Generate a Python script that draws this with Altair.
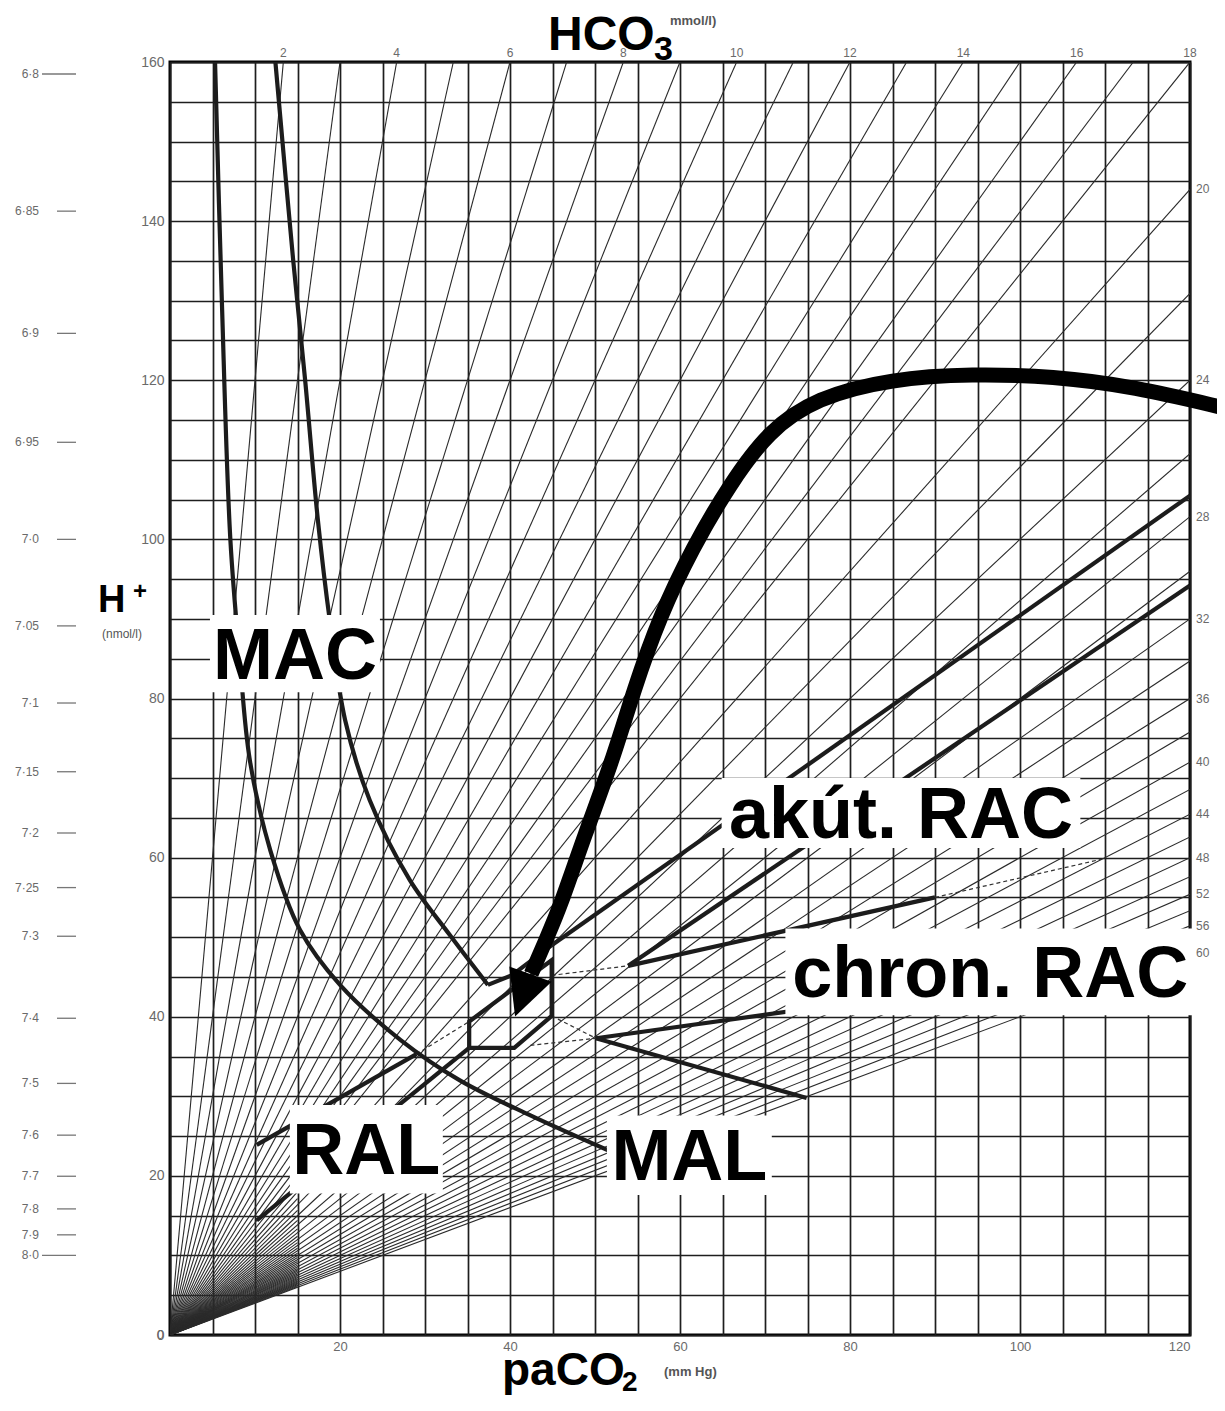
import altair as alt
import pandas as pd

# ---------------- layout ----------------
PAD_L, PAD_T, PAD_R, PAD_B = 162, 54, 27, 62
W, H = 1020, 1273

# ---------------- axis / scale data ----------------
pco2_domain = [0, 120]
h_domain = [0, 160]
grid_step = 5
pco2_label_every = 20
h_label_every = 20

ph_values = [6.8, 6.85, 6.9, 6.95, 7.0, 7.05, 7.1, 7.15, 7.2, 7.25, 7.3, 7.4, 7.5, 7.6, 7.7, 7.8, 7.9, 8.0]
ph_text = ["6·8", "6·85", "6·9", "6·95", "7·0", "7·05", "7·1", "7·15", "7·2", "7·25", "7·3",
           "7·4", "7·5", "7·6", "7·7", "7·8", "7·9", "8·0"]
ph_long_dash = ["6·8", "8·0"]

hco3_top_labels = [2, 4, 6, 8, 10, 12, 14, 16, 18]
hco3_right_labels = [20, 24, 28, 32, 36, 40, 44, 48, 52, 56, 60]
hco3_lines = list(range(2, 19)) + list(range(20, 61, 2))
hco3_short_lines = list(range(19, 60, 2))
short_line_end_pco2 = 15

# ---------------- bands (thick lines) ----------------
bands = {
    "MAC_left": ([5.3, 6.1, 7.1, 8.2, 9.4, 11.8, 15.3, 20.0, 27.1, 34.1, 42.4, 52.0],
                 [160, 130, 100, 85, 72.2, 60.9, 50.9, 44.0, 37.1, 32.0, 27.6, 23.0]),
    "MAC_right": ([12.4, 14.5, 15.9, 17.4, 18.8, 20.6, 23.5, 28.2, 32.9, 37.4],
                  [160, 135, 120, 102.4, 89.8, 77.3, 67.2, 57.2, 50.3, 44.0]),
    "MAC_link": ([37.4, 40.2, 44.4], [44.0, 45.2, 48.6]),
    "MAL_upper": ([50.1, 74.9], [37.3, 29.8]),
    "RAL_upper": ([10.2, 29.0], [23.9, 35.3]),
    "RAL_lower": ([10.2, 35.2], [14.4, 36.1]),
    "acute_upper": ([44.4, 120], [48.6, 105.5]),
    "acute_lower": ([53.9, 120], [46.4, 94.2]),
    "chron_upper": ([53.9, 90.0], [46.4, 55.0]),
    "chron_lower": ([50.1, 90.0], [37.3, 43.2]),
    "normal": ([35.2, 35.2, 44.9, 44.9, 40.5, 35.2], [36.1, 39.4, 47.1, 40.1, 36.1, 36.1]),
}
curved_bands = ["MAC_left", "MAC_right"]

dashed = {
    "d1": ([44.9, 53.9], [45.2, 46.4]),
    "d2": ([44.9, 50.1], [40.1, 37.3]),
    "d3": ([42.4, 50.1], [36.4, 37.3]),
    "d4": ([29.0, 35.2], [35.3, 39.4]),
    "d5": ([90.0, 109.6], [55.0, 59.8]),
}

# ---------------- arrow ----------------
arrow_x = [124.1, 113.4, 103.9, 94.4, 84.9, 76.0, 70.4, 65.9, 61.5, 57.6, 54.6, 52.0, 48.8, 45.9, 44.2, 42.5]
arrow_y = [116.5, 119.2, 120.5, 120.8, 120.2, 117.8, 113.6, 107.0, 99.0, 90.3, 81.2, 72.0, 62.9, 53.8, 49.6, 45.4]
arrow_head = (41.5, 42.7)
arrow_head_angle = 20

# ---------------- label boxes ----------------
lab_text = ["MAC", "akút. RAC", "chron. RAC", "RAL", "MAL"]
lab_x1 = [4.7, 64.9, 72.4, 14.1, 51.4]
lab_x2 = [24.7, 107.1, 120.6, 32.1, 70.8]
lab_y1 = [80.8, 61.2, 40.2, 17.8, 17.6]
lab_y2 = [90.5, 70.0, 51.1, 28.9, 27.6]

# ---------------- build tables ----------------
iso_rows = []
for h in hco3_lines:
    if h <= 18:
        xe, ye = 160 * h / 24, 160
    else:
        xe, ye = 120, 2880 / h
    iso_rows += [{"id": f"h{h}", "o": 0, "x": 0, "y": 0}, {"id": f"h{h}", "o": 1, "x": xe, "y": ye}]
for h in hco3_short_lines:
    xe = short_line_end_pco2
    iso_rows += [{"id": f"s{h}", "o": 0, "x": 0, "y": 0}, {"id": f"s{h}", "o": 1, "x": xe, "y": 24 * xe / h}]
iso_df = pd.DataFrame(iso_rows)

def long_table(d, names):
    rows = []
    for n in names:
        xs_, ys_ = d[n]
        for i, (a, b) in enumerate(zip(xs_, ys_)):
            rows.append({"id": n, "o": i, "x": a, "y": b})
    return pd.DataFrame(rows)

curve_df = long_table(bands, curved_bands)
straight_df = long_table(bands, [k for k in bands if k not in curved_bands])
dash_df = long_table(dashed, list(dashed))
arrow_df = pd.DataFrame({"o": range(len(arrow_x)), "x": arrow_x, "y": arrow_y})
head_df = pd.DataFrame({"x": [arrow_head[0]], "y": [arrow_head[1]]})

ph_df = pd.DataFrame({"t": ph_text, "h": [10 ** (9 - p) for p in ph_values],
                      "long": [t in ph_long_dash for t in ph_text]})
top_df = pd.DataFrame({"t": [str(h) for h in hco3_top_labels], "x": [160 * h / 24 for h in hco3_top_labels]})
right_df = pd.DataFrame({"t": [str(h) for h in hco3_right_labels], "y": [2880 / h for h in hco3_right_labels]})
lab_df = pd.DataFrame({"t": lab_text, "x1": lab_x1, "x2": lab_x2, "y1": lab_y1, "y2": lab_y2,
                       "xc": [(a + b) / 2 for a, b in zip(lab_x1, lab_x2)],
                       "yc": [(a + b) / 2 for a, b in zip(lab_y1, lab_y2)]})

GRID = "#1e1e1e"
LABEL = "#6a6a6a"
FONT = "Liberation Sans"

xs = alt.Scale(domain=pco2_domain, nice=False, zero=False)
ys = alt.Scale(domain=h_domain, nice=False, zero=False)

x_axis = alt.Axis(values=list(range(0, 121, grid_step)), grid=True, gridColor=GRID, gridWidth=1.7,
                  gridOpacity=1, domain=False, ticks=False, labelFont=FONT, labelFontSize=13,
                  labelColor=LABEL, labelPadding=5, title=None,
                  labelExpr=f"datum.value % {pco2_label_every} == 0 && datum.value > 0 ? datum.label : ''")
y_axis = alt.Axis(values=list(range(0, 161, grid_step)), grid=True, gridColor=GRID, gridWidth=1.7,
                  gridOpacity=1, domain=False, ticks=False, labelFont=FONT, labelFontSize=14,
                  labelColor=LABEL, labelPadding=6, title=None,
                  labelExpr=f"datum.value % {h_label_every} == 0 ? datum.label : ''")

X = lambda f: alt.X(f, scale=xs, axis=x_axis, title=None)
Y = lambda f: alt.Y(f, scale=ys, axis=y_axis, title=None)

iso = alt.Chart(iso_df).mark_line(color="#2a2a2a", strokeWidth=1.1, clip=True).encode(
    x=X("x:Q"), y=Y("y:Q"), detail="id:N", order="o:Q")

curves = alt.Chart(curve_df).mark_line(color="#1c1c1c", strokeWidth=4.2, interpolate="catmull-rom",
                                       clip=True).encode(
    x=X("x:Q"), y=Y("y:Q"), detail="id:N", order="o:Q")
straights = alt.Chart(straight_df).mark_line(color="#1c1c1c", strokeWidth=4.2, strokeJoin="miter",
                                             clip=True).encode(
    x=X("x:Q"), y=Y("y:Q"), detail="id:N", order="o:Q")
dashes = alt.Chart(dash_df).mark_line(color="#333", strokeWidth=1.2, strokeDash=[4, 3]).encode(
    x=X("x:Q"), y=Y("y:Q"), detail="id:N", order="o:Q")

boxes = alt.Chart(lab_df).mark_rect(color="white").encode(
    x=X("x1:Q"), x2="x2:Q", y=Y("y1:Q"), y2="y2:Q")
texts = alt.Chart(lab_df).mark_text(font=FONT, fontWeight="bold", fontSize=72, color="black",
                                    baseline="middle", align="center", dy=3).encode(
    x=X("xc:Q"), y=Y("yc:Q"), text="t:N")

arrow = alt.Chart(arrow_df).mark_line(color="black", strokeWidth=15, interpolate="basis",
                                      strokeCap="butt").encode(x=X("x:Q"), y=Y("y:Q"), order="o:Q")
head = alt.Chart(head_df).mark_point(shape="M0,1L-1,-1L1,-1Z", filled=True, color="black",
                                     opacity=1, size=2025, angle=arrow_head_angle, strokeWidth=0).encode(
    x=X("x:Q"), y=Y("y:Q"))

ph_dash_long = alt.Chart(ph_df).transform_filter("datum.long").mark_rule(
    color="#777", strokeWidth=1.3).encode(x=alt.value(-128), x2=alt.value(-94), y=Y("h:Q"))
ph_dash_short = alt.Chart(ph_df).transform_filter("!datum.long").mark_rule(
    color="#777", strokeWidth=1.3).encode(x=alt.value(-113), x2=alt.value(-94), y=Y("h:Q"))
ph_lab = alt.Chart(ph_df).mark_text(font=FONT, fontSize=12, color=LABEL, align="right",
                                    baseline="middle").encode(
    x=alt.value(-131), y=Y("h:Q"), text="t:N")

top_lab = alt.Chart(top_df).mark_text(font=FONT, fontSize=12, color=LABEL, align="center",
                                      baseline="bottom").encode(
    x=X("x:Q"), y=alt.value(-2), text="t:N")
right_lab = alt.Chart(right_df).mark_text(font=FONT, fontSize=12, color=LABEL, align="left",
                                          baseline="middle").encode(
    x=alt.value(W + 6), y=Y("y:Q"), text="t:N")

title_rows = pd.DataFrame({
    "t": ["HCO", "3", "mmol/l)", "paCO", "2", "(mm Hg)", "H", "+", "(nmol/l)", "0"],
    "px": [378, 484, 500, 332, 452, 494, -72, -37, -48, -6],
    "py": [-12, -2, -37, 1323, 1329, 1314, 550, 537, 576, 1277],
    "size": [48, 34, 13, 46, 28, 13, 38, 24, 12, 13],
    "bold": [True, True, True, True, True, True, True, True, False, False],
    "col": ["black", "black", "#555", "black", "black", "#555", "black", "black", "#555", LABEL],
    "al": ["left", "left", "left", "left", "left", "left", "left", "left", "center", "right"],
})
titles = []
for _, r in title_rows.iterrows():
    titles.append(alt.Chart(pd.DataFrame({"t": [r["t"]]})).mark_text(
        font=FONT, fontSize=int(r["size"]), fontWeight="bold" if r["bold"] else "normal",
        color=r["col"], align=r["al"], baseline="alphabetic").encode(
        x=alt.value(int(r["px"])), y=alt.value(int(r["py"])), text="t:N"))

chart = alt.layer(iso, dashes, curves, straights, boxes, texts, arrow, head, ph_dash_long,
                  ph_dash_short, ph_lab, top_lab, right_lab, *titles).properties(
    width=W, height=H,
    autosize=alt.AutoSizeParams(type="none"),
    padding={"left": PAD_L, "top": PAD_T, "right": PAD_R, "bottom": PAD_B},
    background="white",
).configure_view(stroke="black", strokeWidth=3)

chart.save("out.html", embed_options={"renderer": "svg", "actions": False})
